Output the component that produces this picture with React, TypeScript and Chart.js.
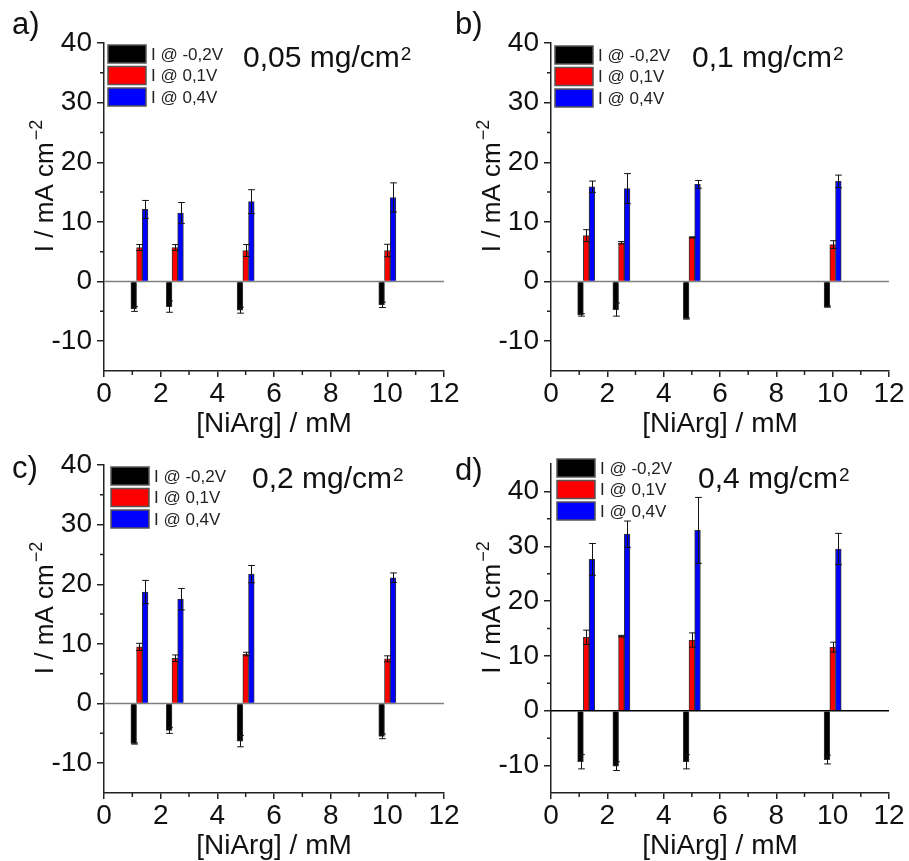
import React, { useEffect, useRef } from 'react';
import { Chart, registerables } from 'chart.js';

Chart.register(...registerables);

const FONT = "'Liberation Sans', Arial, sans-serif";

// ---------- data ----------
const CONC_MM = [1.25, 2.5, 5, 10];
const SERIES = ['I @ -0,2V', 'I @ 0,1V', 'I @ 0,4V'];
const LOADINGS = ['0,05', '0,1', '0,2', '0,4'];
const LETTERS = ['a)', 'b)', 'c)', 'd)'];
const X_TICKS = [0, 2, 4, 6, 8, 10, 12];
const X_MINOR = [1, 3, 5, 7, 9, 11];
const Y_TICKS = [-10, 0, 10, 20, 30, 40];
const Y_MINOR = [-5, 5, 15, 25, 35];
const Y_MIN = -15;
const Y_MAX = [40, 40, 40, 45];
const X_TITLE = '[NiArg] / mM';
const Y_TITLE = 'I / mA cm';
const Y_TITLE_SUP = '\u22122';

// panel a) 0,05 mg/cm2
const A_NEG = [-4.6, -4.2, -4.8, -3.9];
const A_NEG_ERR = [0.4, 0.95, 0.5, 0.45];
const A_MID = [5.7, 5.7, 5.2, 5.2];
const A_MID_ERR = [0.5, 0.5, 1.0, 1.05];
const A_POS = [12.1, 11.5, 13.4, 14.1];
const A_POS_ERR = [1.5, 1.75, 2.0, 2.45];

// panel b) 0,1 mg/cm2
const B_NEG = [-5.6, -4.7, -6.2, -4.2];
const B_NEG_ERR = [0.2, 1.1, 0.1, 0.1];
const B_MID = [7.7, 6.5, 7.4, 6.2];
const B_MID_ERR = [1.0, 0.2, 0.1, 0.65];
const B_POS = [15.9, 15.6, 16.3, 16.8];
const B_POS_ERR = [0.95, 2.5, 0.65, 1.05];

// panel c) 0,2 mg/cm2
const C_NEG = [-6.7, -4.5, -6.3, -5.5];
const C_NEG_ERR = [0.1, 0.5, 0.95, 0.4];
const C_MID = [9.5, 7.6, 8.3, 7.5];
const C_MID_ERR = [0.6, 0.55, 0.3, 0.5];
const C_POS = [18.7, 17.5, 21.7, 21.1];
const C_POS_ERR = [1.95, 1.8, 1.45, 0.8];

// panel d) 0,4 mg/cm2
const D_NEG = [-9.3, -10.1, -9.3, -8.9];
const D_NEG_ERR = [1.3, 0.8, 1.3, 0.8];
const D_MID = [13.4, 13.6, 12.9, 11.6];
const D_MID_ERR = [1.3, 0.15, 1.3, 0.9];
const D_POS = [27.6, 32.2, 32.9, 29.5];
const D_POS_ERR = [2.9, 2.4, 6.0, 2.85];

const PANEL_VALUES = [
  [A_NEG, A_MID, A_POS],
  [B_NEG, B_MID, B_POS],
  [C_NEG, C_MID, C_POS],
  [D_NEG, D_MID, D_POS],
];
const PANEL_ERRORS = [
  [A_NEG_ERR, A_MID_ERR, A_POS_ERR],
  [B_NEG_ERR, B_MID_ERR, B_POS_ERR],
  [C_NEG_ERR, C_MID_ERR, C_POS_ERR],
  [D_NEG_ERR, D_MID_ERR, D_POS_ERR],
];

// ---------- styles / layout ----------
const W = 909;
const H = 861;
const YW = 70;
const XH = 60;
const SERIES_COLORS = ['#000000', '#ff0000', '#0000ff'];
const AXIS_COLOR = '#222222';
const TEXT_COLOR = '#111111';

const LAYOUT = [
  { l: 104, r: 444, t: 43, b: 371, legX: 108, legY: 45, titleX: 243, titleY: 67, letterX: 12, letterY: 34, zero: '#808080' },
  { l: 551, r: 889, t: 43, b: 371, legX: 555, legY: 46, titleX: 692, titleY: 67, letterX: 455, letterY: 34, zero: '#808080' },
  { l: 104, r: 444, t: 465, b: 793, legX: 111, legY: 467, titleX: 252, titleY: 488, letterX: 12, letterY: 478, zero: '#808080' },
  { l: 551, r: 889, t: 464, b: 793, legX: 557, legY: 459, titleX: 698, titleY: 488, letterX: 455, letterY: 480, zero: '#000000' },
];

function makeConfig(idx: number): any {
  const lay = LAYOUT[idx];

  const decor = {
    id: 'decor' + idx,
    beforeDatasetsDraw(chart: any) {
      const ctx = chart.ctx;
      const y0 = chart.scales.y.getPixelForValue(0);
      ctx.save();
      ctx.strokeStyle = lay.zero;
      ctx.lineWidth = 1.5;
      ctx.beginPath();
      ctx.moveTo(chart.chartArea.left, y0);
      ctx.lineTo(chart.chartArea.right, y0);
      ctx.stroke();
      ctx.restore();
    },
    afterDatasetsDraw(chart: any) {
      const ctx = chart.ctx;
      const ys = chart.scales.y;
      ctx.save();
      ctx.strokeStyle = '#111';
      ctx.lineWidth = 1;
      chart.data.datasets.forEach((ds: any, di: number) => {
        const meta = chart.getDatasetMeta(di);
        meta.data.forEach((el: any, i: number) => {
          const v = ds.data[i].y;
          const e = ds.errors[i];
          const x = Math.round(el.x) + 0.5;
          const half = el.width / 2 + 0.5;
          const yt = ys.getPixelForValue(v + e);
          const yb = ys.getPixelForValue(v - e);
          ctx.beginPath();
          ctx.moveTo(x, yt);
          ctx.lineTo(x, yb);
          ctx.moveTo(x - half, yt);
          ctx.lineTo(x + half, yt);
          ctx.moveTo(x - half, yb);
          ctx.lineTo(x + half, yb);
          ctx.stroke();
        });
      });
      ctx.restore();
    },
    afterDraw(chart: any) {
      const ctx = chart.ctx;
      const xs = chart.scales.x;
      const ys = chart.scales.y;
      const ca = chart.chartArea;
      ctx.save();
      // minor ticks
      ctx.strokeStyle = AXIS_COLOR;
      ctx.lineWidth = 1.5;
      ctx.beginPath();
      X_MINOR.forEach((v) => {
        const px = xs.getPixelForValue(v);
        ctx.moveTo(px, ca.bottom);
        ctx.lineTo(px, ca.bottom + 4);
      });
      Y_MINOR.forEach((v) => {
        if (v > Y_MAX[idx]) return;
        const py = ys.getPixelForValue(v);
        ctx.moveTo(ca.left, py);
        ctx.lineTo(ca.left - 4, py);
      });
      ctx.stroke();

      // legend
      ctx.textBaseline = 'middle';
      ctx.textAlign = 'left';
      SERIES.forEach((label, s) => {
        const by = lay.legY + s * 21.5;
        ctx.fillStyle = SERIES_COLORS[s];
        ctx.fillRect(lay.legX, by, 38, 18);
        ctx.strokeStyle = '#555';
        ctx.lineWidth = 1.5;
        ctx.strokeRect(lay.legX, by, 38, 18);
        ctx.fillStyle = '#222';
        ctx.font = `17px ${FONT}`;
        ctx.fillText(label, lay.legX + 43, by + 10);
      });

      // panel title with superscript
      ctx.textBaseline = 'alphabetic';
      ctx.fillStyle = TEXT_COLOR;
      ctx.font = `30px ${FONT}`;
      const main = LOADINGS[idx] + ' mg/cm';
      ctx.fillText(main, lay.titleX, lay.titleY);
      const mw = ctx.measureText(main).width;
      ctx.font = `19px ${FONT}`;
      ctx.fillText('2', lay.titleX + mw + 1, lay.titleY - 7);

      // panel letter
      ctx.font = `31px ${FONT}`;
      ctx.fillText(LETTERS[idx], lay.letterX, lay.letterY);

      // x title
      ctx.font = `28px ${FONT}`;
      ctx.textAlign = 'center';
      ctx.fillText(X_TITLE, (ca.left + ca.right) / 2, ca.bottom + 61);

      // y title (rotated) with superscript
      ctx.textAlign = 'left';
      ctx.font = `26px ${FONT}`;
      const yw = ctx.measureText(Y_TITLE).width;
      ctx.font = `18px ${FONT}`;
      const sw = ctx.measureText(Y_TITLE_SUP).width;
      const total = yw + 2 + sw;
      ctx.translate(ca.left - 51, (ca.top + ca.bottom) / 2 - 21);
      ctx.rotate(-Math.PI / 2);
      ctx.font = `26px ${FONT}`;
      ctx.fillText(Y_TITLE, -total / 2, 0);
      ctx.font = `18px ${FONT}`;
      ctx.fillText(Y_TITLE_SUP, -total / 2 + yw + 2, -11);
      ctx.restore();
    },
  };

  return {
    type: 'bar',
    data: {
      datasets: SERIES.map((label, s) => ({
        label,
        data: CONC_MM.map((c, i) => ({ x: c, y: PANEL_VALUES[idx][s][i] })),
        errors: PANEL_ERRORS[idx][s],
        backgroundColor: SERIES_COLORS[s],
        borderColor: '#333333',
        borderWidth: 1,
        barThickness: 5.7,
      })),
    },
    options: {
      responsive: false,
      animation: false,
      events: [],
      layout: {
        padding: { left: lay.l - YW, right: W - lay.r, top: lay.t, bottom: H - lay.b - XH },
      },
      plugins: { legend: { display: false }, tooltip: { enabled: false }, title: { display: false } },
      scales: {
        x: {
          type: 'linear',
          min: 0,
          max: 12,
          offset: false,
          afterBuildTicks: (s: any) => { s.ticks = X_TICKS.map((v) => ({ value: v })); },
          afterFit: (s: any) => { s.height = XH; },
          grid: { offset: false, drawOnChartArea: false, drawTicks: true, tickLength: 6, color: AXIS_COLOR, lineWidth: 1.5 },
          border: { display: true, color: AXIS_COLOR, width: 1.5 },
          ticks: { font: { family: FONT, size: 28 }, color: TEXT_COLOR, padding: 0, maxRotation: 0, autoSkip: false },
        },
        y: {
          type: 'linear',
          min: Y_MIN,
          max: Y_MAX[idx],
          afterBuildTicks: (s: any) => { s.ticks = Y_TICKS.map((v) => ({ value: v })); },
          afterFit: (s: any) => { s.width = YW; },
          grid: { drawOnChartArea: false, drawTicks: true, tickLength: 7, color: AXIS_COLOR, lineWidth: 1.5 },
          border: { display: true, color: AXIS_COLOR, width: 1.5 },
          ticks: { font: { family: FONT, size: 28 }, color: TEXT_COLOR, padding: 5, autoSkip: false },
        },
      },
    },
    plugins: [decor],
  };
}

function Panel({ idx }: { idx: number }) {
  const ref = useRef<HTMLCanvasElement>(null);
  useEffect(() => {
    if (!ref.current) return;
    const chart = new Chart(ref.current, makeConfig(idx));
    return () => chart.destroy();
  }, [idx]);
  return (
    <canvas
      ref={ref}
      width={W}
      height={H}
      style={{ position: 'absolute', left: 0, top: 0, width: W, height: H }}
    />
  );
}

export default function App() {
  return (
    <div style={{ position: 'fixed', left: 0, top: 0, width: W, height: H, background: '#ffffff', overflow: 'hidden' }}>
      {[0, 1, 2, 3].map((i) => (
        <Panel key={i} idx={i} />
      ))}
    </div>
  );
}
